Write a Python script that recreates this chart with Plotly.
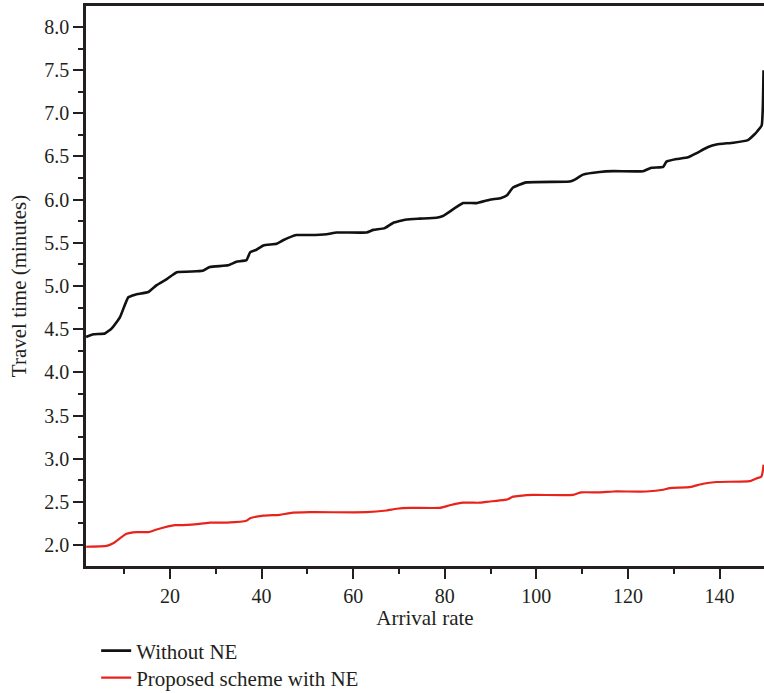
import plotly.graph_objects as go

# Without NE (black)
x_without = [1.7, 3.3, 5.8, 7.3, 9.1, 10.9, 12.4, 15.3, 17.1, 19.3, 21.5, 25.8, 27.3, 28.7,
             32.7, 34.5, 36.7, 37.5, 38.9, 40.4, 43.3, 44.7, 47.6, 50.5, 54.2, 56.4, 62.9,
             64.4, 66.9, 68.7, 71.6, 74.5, 78.2, 79.6, 84.0, 86.9, 89.8, 92.3, 93.6, 94.9,
             97.8, 107.3, 108.3, 110.2, 113.8, 116.8, 123.3, 125.1, 127.7, 128.4, 130.6,
             133.1, 135.0, 137.5, 139.3, 143.0, 146.2, 147.7, 148.2, 149.2, 149.45, 149.6]
y_without = [4.41, 4.44, 4.45, 4.51, 4.64, 4.87, 4.90, 4.93, 5.01, 5.08, 5.16, 5.17, 5.18, 5.22,
             5.24, 5.28, 5.30, 5.39, 5.42, 5.47, 5.49, 5.53, 5.59, 5.59, 5.60, 5.62, 5.62,
             5.65, 5.67, 5.73, 5.77, 5.78, 5.79, 5.81, 5.96, 5.96, 6.00, 6.02, 6.05, 6.14,
             6.20, 6.21, 6.23, 6.29, 6.32, 6.33, 6.33, 6.37, 6.38, 6.44, 6.47,
             6.49, 6.54, 6.61, 6.64, 6.66, 6.69, 6.76, 6.79, 6.86, 7.08, 7.50]

# Proposed scheme with NE (red)
x_with = [1.7, 6.2, 7.6, 10.5, 12.7, 15.3, 17.1, 21.1, 22.9, 27.3, 28.7, 32.4, 36.7, 37.5,
          40.4, 44.0, 46.2, 50.5, 62.9, 67.3, 69.5, 72.4, 78.9, 81.1, 84.0, 87.6, 89.1,
          92.7, 93.8, 94.9, 96.4, 99.3, 108.0, 109.8, 113.8, 116.8, 124.0, 127.7, 129.1,
          133.5, 136.4, 139.3, 146.6, 148.0, 149.1, 149.45, 149.6]
y_with = [1.98, 1.99, 2.02, 2.13, 2.15, 2.15, 2.18, 2.23, 2.23, 2.25, 2.26, 2.26, 2.28, 2.31,
          2.34, 2.35, 2.37, 2.38, 2.38, 2.40, 2.42, 2.43, 2.43, 2.46, 2.49, 2.49, 2.50,
          2.52, 2.53, 2.56, 2.57, 2.58, 2.58, 2.61, 2.61, 2.62, 2.62, 2.64, 2.66,
          2.67, 2.71, 2.73, 2.74, 2.77, 2.79, 2.86, 2.93]

x_tickvals = [20, 40, 60, 80, 100, 120, 140]
y_tickvals = [2.0, 2.5, 3.0, 3.5, 4.0, 4.5, 5.0, 5.5, 6.0, 6.5, 7.0, 7.5, 8.0]
y_ticktext = ["2.0", "2.5", "3.0", "3.5", "4.0", "4.5", "5.0", "5.5", "6.0", "6.5", "7.0", "7.5", "8.0"]

TXT = "#231f20"
FONT = "Liberation Serif"

fig = go.Figure()
fig.add_trace(go.Scatter(x=x_without, y=y_without, mode="lines", name="Without NE",
                         legend="legend",
                         line=dict(color="#111111", width=2.6, shape="spline", smoothing=0.4)))
fig.add_trace(go.Scatter(x=x_with, y=y_with, mode="lines", name="Proposed scheme with NE",
                         legend="legend2",
                         line=dict(color="#e8231c", width=2.2, shape="spline", smoothing=0.4)))

leg_common = dict(x=0.015, xanchor="left", yref="container", yanchor="middle", orientation="v",
                  font=dict(family=FONT, size=21, color=TXT), bgcolor="rgba(0,0,0,0)")

fig.update_layout(
    width=764, height=693,
    margin=dict(l=86, r=0, t=6, b=127),
    paper_bgcolor="white", plot_bgcolor="white",
    font=dict(family=FONT, size=20, color=TXT),
    showlegend=True,
    legend=dict(y=0.0606, **leg_common),
    legend2=dict(y=0.0216, **leg_common),
)
fig.update_xaxes(
    range=[1.67, 149.7], showgrid=False, zeroline=False, automargin=False,
    showline=True, linecolor=TXT, linewidth=2.5, mirror=True,
    ticks="outside", ticklen=10, tickwidth=2, tickcolor=TXT,
    tickvals=x_tickvals, tickfont=dict(family=FONT, size=20, color=TXT),
    minor=dict(ticks="outside", ticklen=5, tickwidth=2, tickcolor=TXT, dtick=10, tick0=0),
    title=dict(text="Arrival rate", font=dict(family=FONT, size=21, color=TXT), standoff=12),
)
fig.update_yaxes(
    range=[1.757, 8.243], showgrid=False, zeroline=False, automargin=False,
    showline=True, linecolor=TXT, linewidth=2.5, mirror=False,
    ticks="outside", ticklen=10, tickwidth=2, tickcolor=TXT,
    tickvals=y_tickvals, ticktext=y_ticktext, tickfont=dict(family=FONT, size=20, color=TXT),
    minor=dict(ticks="outside", ticklen=5, tickwidth=2, tickcolor=TXT, dtick=0.25, tick0=0),
    title=dict(text="Travel time (minutes)", font=dict(family=FONT, size=21, color=TXT), standoff=12),
)

fig.write_html(
    "out.html",
    config={"displayModeBar": False},
    post_script="document.body.style.margin='0';document.body.style.overflow='hidden';",
)
